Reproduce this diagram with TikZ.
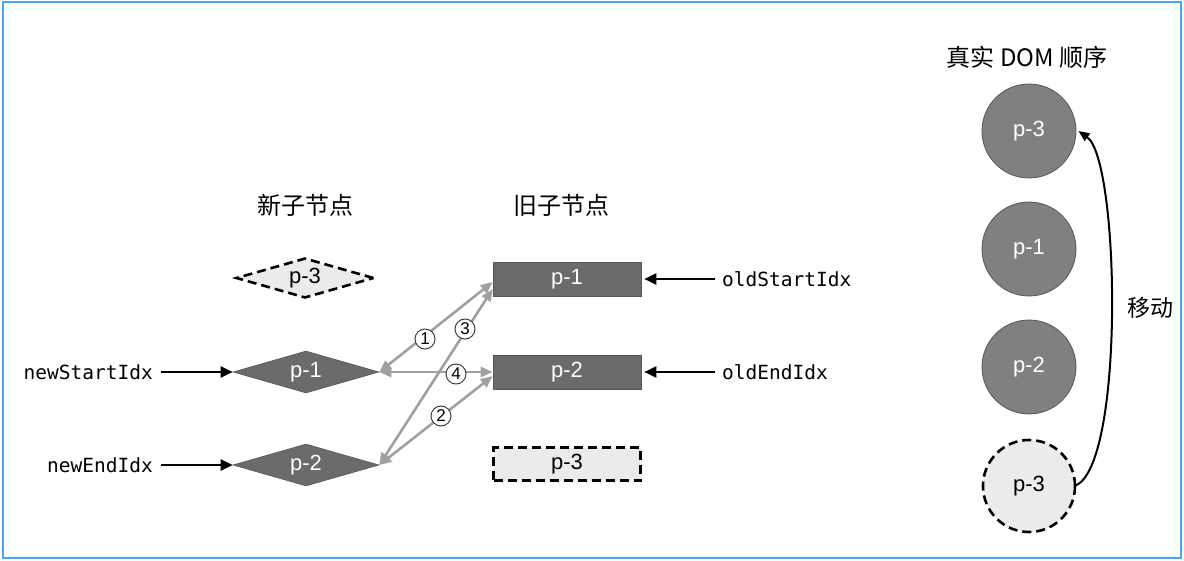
\documentclass[tikz,border=0pt]{standalone}
\usepackage{fontspec}
\setmainfont{Liberation Sans}
\setmonofont{DejaVu Sans Mono}
\newfontfamily\cjk{Noto Sans CJK SC}
\usetikzlibrary{shapes.geometric,arrows.meta,calc}
\definecolor{frameblue}{HTML}{4DA6F0}
\definecolor{darkfill}{HTML}{6B6B6B}
\definecolor{circfill}{HTML}{808080}
\definecolor{lightfill}{HTML}{EBEBEB}
\definecolor{linkgray}{HTML}{A0A0A0}
\begin{document}
\begin{tikzpicture}[x=1pt,y=-1pt,
  ptxt/.style={font=\fontsize{22}{24}\selectfont},
  darkdia/.style={diamond,aspect=3.45,minimum width=146pt,minimum height=42pt,inner sep=0pt,fill=darkfill,draw=darkfill!80!black,line width=0.6pt,text=white,ptxt},
  dashdia/.style={diamond,aspect=3.45,minimum width=138pt,minimum height=40pt,inner sep=0pt,fill=lightfill,draw=black,line width=2.6pt,dash pattern=on 9pt off 5pt,ptxt},
  darkbox/.style={rectangle,minimum width=148pt,minimum height=34pt,inner sep=0pt,fill=darkfill,draw=darkfill!80!black,line width=0.6pt,text=white,ptxt},
  dashbox/.style={rectangle,minimum width=147pt,minimum height=33pt,inner sep=0pt,fill=lightfill,draw=black,line width=2.6pt,dash pattern=on 9pt off 5pt,ptxt},
  darkcirc/.style={circle,minimum size=94pt,inner sep=0pt,fill=circfill,draw=darkfill!80!black,line width=0.8pt,text=white,ptxt},
  dashcirc/.style={circle,minimum size=92pt,inner sep=0pt,fill=lightfill,draw=black,line width=2.6pt,dash pattern=on 9pt off 5pt,ptxt},
  idx/.style={font=\ttfamily\fontsize{19.5}{21}\selectfont,inner sep=0pt},
  heading/.style={font=\cjk\fontsize{24}{26}\selectfont,inner sep=0pt},
  ptr/.style={line width=2.4pt,-{Triangle[length=12pt,width=11pt]}},
  link/.style={draw=linkgray,line width=2.6pt,{Triangle[length=12pt,width=10pt]}-{Triangle[length=12pt,width=10pt]}},
  num/.style={circle,draw=black!75,line width=1pt,fill=white,minimum size=20pt,inner sep=0pt,font=\fontsize{17}{18}\selectfont}
]
\useasboundingbox (0,0) rectangle (1184,561);
\draw[frameblue,line width=2.5pt] (3,2) rectangle (1181,558);

% headings
\node[heading] (hnew) at (305,205) {新子节点};
\node[heading] (hold) at (561,205) {旧子节点};
\node[heading] (hdom) at (1027,57) {真实 DOM 顺序};

% new children
\node[dashdia] (d3) at (305,278) {p-3};
\node[darkdia] (d1) at (306,372) {p-1};
\node[darkdia] (d2) at (306,465) {p-2};

% old children
\node[darkbox] (r1) at (567,279) {p-1};
\node[darkbox] (r2) at (567,372) {p-2};
\node[dashbox] (r3) at (567,464) {p-3};

% index labels
\node[idx,anchor=east] (nsi) at (153,372) {newStartIdx};
\node[idx,anchor=east] (nei) at (153,465) {newEndIdx};
\node[idx,anchor=west] (osi) at (722,279) {oldStartIdx};
\node[idx,anchor=west] (oei) at (722,372) {oldEndIdx};

\draw[ptr] ([xshift=8pt]nsi.east) -- (d1.west);
\draw[ptr] ([xshift=8pt]nei.east) -- (d2.west);
\draw[ptr] ([xshift=-7pt]osi.west) -- ([xshift=3pt]r1.east);
\draw[ptr] ([xshift=-7pt]oei.west) -- ([xshift=3pt]r2.east);

% comparison links
\coordinate (a1) at ([yshift=-3pt]r1.west);
\coordinate (a3) at ([yshift=-10pt]r1.west);
\coordinate (a2) at ([yshift=-4pt]r2.west);
\draw[link] (d1.east) -- (a1);
\draw[link] (d2.east) -- (a3);
\draw[link] (d2.east) -- (a2);
\draw[link] (d1.east) -- (r2.west);
\node[num] (n1) at (425,339) {1};
\node[num] (n3) at (465,329) {3};
\node[num] (n4) at (456,374) {4};
\node[num] (n2) at (441,416) {2};

% real DOM order
\node[darkcirc] (c1) at (1029,131) {p-3};
\node[darkcirc] (c2) at (1029,249) {p-1};
\node[darkcirc] (c3) at (1029,367) {p-2};
\node[dashcirc] (c4) at (1029,486) {p-3};
\draw[line width=2pt,-{Triangle[length=11pt,width=9pt]}] ([xshift=-2pt]c4.east) .. controls (1125,470) and (1120,160) .. ([xshift=2pt]c1.east);
\node[font=\cjk\fontsize{23}{25}\selectfont] (mv) at (1150,308) {移动};
\end{tikzpicture}
\end{document}
